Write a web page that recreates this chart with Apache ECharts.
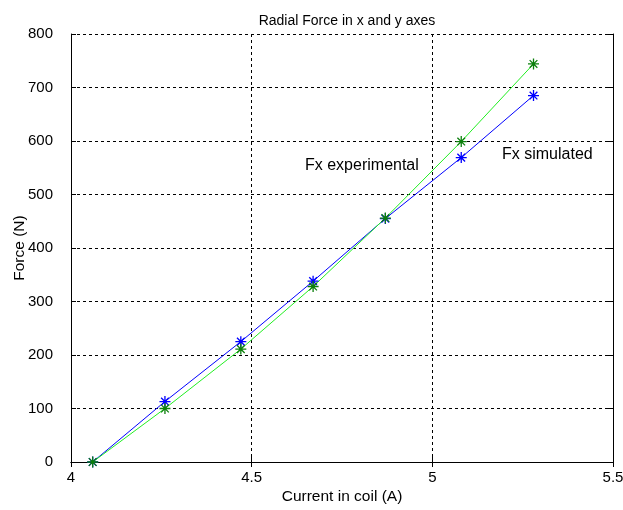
<!DOCTYPE html>
<html>
<head>
<meta charset="utf-8">
<script src="https://cdn.jsdelivr.net/npm/echarts@6/dist/echarts.min.js"></script>
<style>html,body{margin:0;padding:0;background:#fff;}#c{width:623px;height:510px;}</style>
</head>
<body>
<div id="c"></div>
<script>
const currentA = [4.06, 4.26, 4.47, 4.67, 4.87, 5.08, 5.28];
const simulatedN = [0, 113, 225, 338, 455, 569, 685];
const experimentalN = [0, 100, 211, 328, 456, 599, 744];
const xTicks = [4, 4.5, 5, 5.5];
const yTicks = [0, 100, 200, 300, 400, 500, 600, 700, 800];

const FONT = '"Liberation Sans", Arial, sans-serif';
const star = 'path://M0,-10 L0,10 M-10,0 L10,0 M-7,-7 L7,7 M-7,7 L7,-7';

function pairs(xs, ys) { return xs.map((x, i) => [x, ys[i]]); }

const chart = echarts.init(document.getElementById('c'));
const gridLine = { show: true, lineStyle: { color: '#000', width: 1, type: [3, 3] } };
const axLine = { show: true, lineStyle: { color: '#000', width: 1 } };
const tick = { show: true, inside: true, length: 5, lineStyle: { color: '#000' } };
chart.setOption({
  animation: false,
  backgroundColor: '#fff',
  title: {
    text: 'Radial Force in x and y axes',
    left: 342, top: 9, textAlign: 'center',
    textStyle: { fontFamily: FONT, fontSize: 14, fontWeight: 'normal', color: '#000' }
  },
  grid: { left: 71, right: 10, top: 34, bottom: 48, outerBoundsMode: 'none', containLabel: false },
  xAxis: [{
    type: 'value', min: 4, max: 5.5, interval: 0.5,
    name: 'Current in coil (A)', nameLocation: 'middle', nameGap: 27, nameMoveOverlap: false,
    nameTextStyle: { fontFamily: FONT, fontSize: 15.5, color: '#000' },
    axisLine: axLine, axisTick: tick,
    axisLabel: { fontFamily: FONT, fontSize: 15, color: '#000', margin: 8,
      customValues: xTicks, formatter: v => String(v), hideOverlap: false },
    splitLine: gridLine
  }, {
    type: 'value', position: 'top', min: 4, max: 5.5, interval: 0.5,
    axisLine: axLine, axisTick: tick, axisLabel: { show: false }, splitLine: { show: false }
  }],
  yAxis: [{
    type: 'value', min: 0, max: 800, interval: 100,
    name: 'Force (N)', nameLocation: 'middle', nameGap: 43, nameRotate: 90, nameMoveOverlap: false,
    nameTextStyle: { fontFamily: FONT, fontSize: 15.5, color: '#000' },
    axisLine: axLine, axisTick: tick,
    axisLabel: { fontFamily: FONT, fontSize: 15, color: '#000', margin: 18,
      customValues: yTicks },
    splitLine: gridLine
  }, {
    type: 'value', position: 'right', min: 0, max: 800, interval: 100,
    axisLine: axLine, axisTick: tick, axisLabel: { show: false }, splitLine: { show: false }
  }],
  series: [{
    name: 'Fx simulated', type: 'line', data: pairs(currentA, simulatedN),
    symbol: star, symbolSize: 11, showAllSymbol: true,
    lineStyle: { color: '#0000ff', width: 1 },
    itemStyle: { color: '#0000ff', borderColor: '#0000ff', borderWidth: 1.3 }
  }, {
    name: 'Fx experimental', type: 'line', data: pairs(currentA, experimentalN),
    symbol: star, symbolSize: 11, showAllSymbol: true,
    lineStyle: { color: '#22ee22', width: 1 },
    itemStyle: { color: '#0c7f0c', borderColor: '#0c7f0c', borderWidth: 1.3 }
  }],
  graphic: [
    { type: 'text', left: 305, top: 158,
      style: { text: 'Fx experimental', font: '16px ' + FONT, fill: '#000' } },
    { type: 'text', left: 502, top: 147,
      style: { text: 'Fx simulated', font: '16px ' + FONT, fill: '#000' } }
  ]
});
</script>
</body>
</html>
